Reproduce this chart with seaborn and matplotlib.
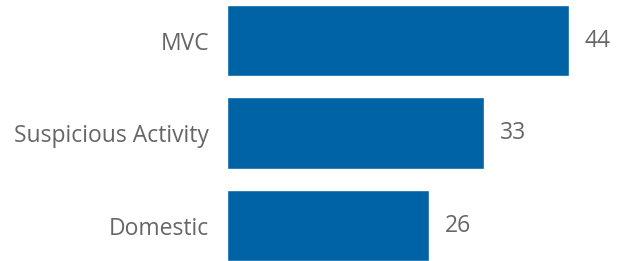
import matplotlib
matplotlib.use("Agg")
import matplotlib.pyplot as plt
import seaborn as sns
import pandas as pd

categories = ["MVC", "Suspicious Activity", "Domestic"]
values = [44, 33, 26]

df = pd.DataFrame({"category": categories, "value": values})

sns.set_theme(style="white")
plt.rcParams['font.family'] = ['Open Sans', 'DejaVu Sans']

fig = plt.figure(figsize=(6.24, 2.61), dpi=100)
ax = fig.add_axes([227/624, 0, 1 - 227/624, 1])

sns.barplot(data=df, x="value", y="category", orient="h", color="#0063A6",
            saturation=1, width=0.768, ax=ax)

ax.set_xlim(0, 397/7.773)
ax.set_ylim(-0.438 + 261/92.5, -0.438)
ax.set_xlabel("")
ax.set_ylabel("")
ax.set_xticks([])
for s in ax.spines.values():
    s.set_visible(False)
ax.tick_params(axis="y", length=0, pad=13, labelsize=16.5, labelcolor="#666666")

for c in ax.containers:
    ax.bar_label(c, labels=[str(v) for v in values], padding=11.5, fontsize=16.5, color="#666666")

fig.savefig("out.png", dpi=100)
